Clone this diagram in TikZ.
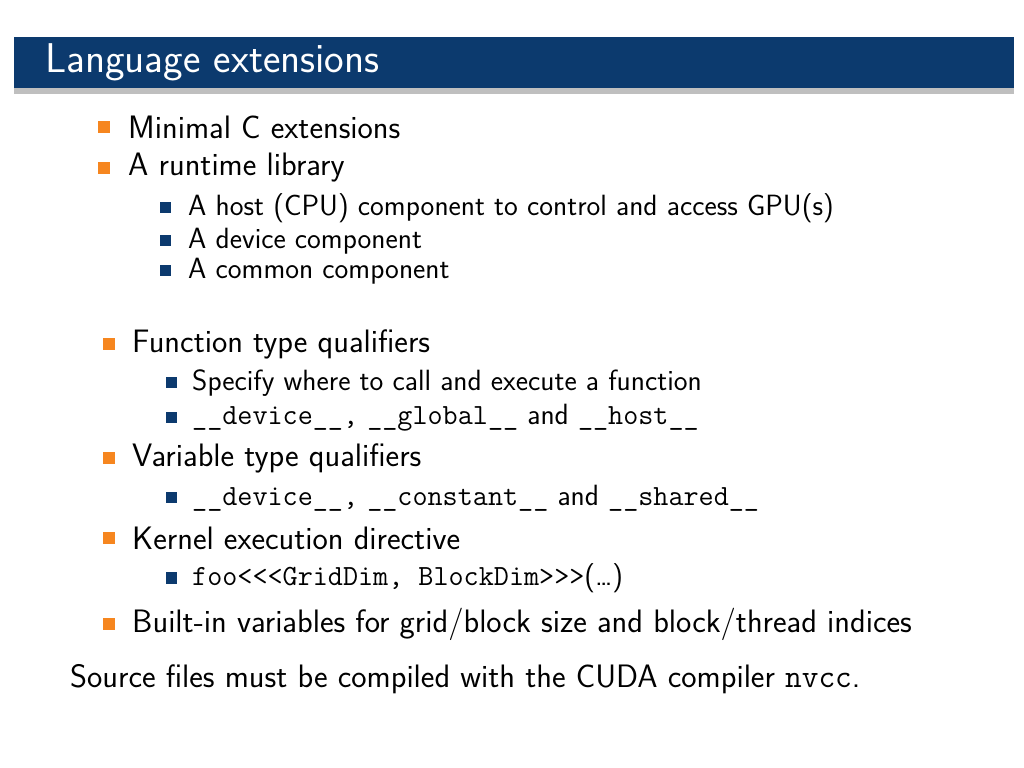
\documentclass[tikz,border=0pt]{standalone}
\usepackage{fontspec}
\usepackage{tikz}
\definecolor{barblue}{RGB}{12,58,110}
\definecolor{dotorange}{RGB}{246,134,31}
\tikzset{
  itemtext/.style={anchor=west,inner sep=0pt,font=\sffamily\fontsize{27.7}{32}\selectfont},
  subtext/.style={anchor=west,inner sep=0pt,font=\sffamily\fontsize{25}{30}\selectfont},
}
\begin{document}
\begin{tikzpicture}[x=0.03cm,y=-0.03cm]
  \useasboundingbox (0,0) rectangle (1024,768);
  % title bar
  \fill[black!25] (14,88) rectangle (1014,94);
  \fill[barblue] (14,37) rectangle (1014,88);
  \node[anchor=west,inner sep=0pt,text=white,font=\sffamily\fontsize{35.5}{40}\selectfont] (title) at (45,62) {Language extensions};

  % first group
  \fill[dotorange] (98,121) rectangle (110,133);
  \node[itemtext] (ext) at (128,127) {Minimal C extensions};
  \fill[dotorange] (98,162) rectangle (110,174);
  \node[itemtext] (lib) at (128,168) {A runtime library};
  \foreach \y/\t [count=\i] in {208/{A host (CPU) component to control and access GPU(s)},
                                241/{A device component},
                                271/{A common component}}{
    \fill[barblue] (160,\y-5.5) rectangle (171,\y+5.5);
    \node[subtext] (lib\i) at (188,\y) {\t};
  }

  % second group
  \fill[dotorange] (103,338) rectangle (115,350);
  \node[itemtext] (func) at (132,344) {Function type qualifiers};
  \fill[barblue] (166,377.5) rectangle (177,388.5);
  \node[subtext] (func1) at (192,383) {Specify where to call and execute a function};
  \fill[barblue] (166,412.5) rectangle (177,423.5);
  \node[subtext] (func2) at (192,418) {\texttt{\_\_device\_\_,} \texttt{\_\_global\_\_} and \texttt{\_\_host\_\_}};

  \fill[dotorange] (103,452) rectangle (115,464);
  \node[itemtext] (var) at (132,458) {Variable type qualifiers};
  \fill[barblue] (166,492.5) rectangle (177,503.5);
  \node[subtext] (var1) at (192,498) {\texttt{\_\_device\_\_,} \texttt{\_\_constant\_\_} and \texttt{\_\_shared\_\_}};

  \fill[dotorange] (103,532) rectangle (115,544);
  \node[itemtext] (kern) at (132,538) {Kernel execution directive};
  \fill[barblue] (166,572.5) rectangle (177,583.5);
  \node[subtext] (kern1) at (192,578) {\texttt{foo<{}<{}<GridDim, BlockDim>{}>{}>}(\ldots)};

  \fill[dotorange] (103,618) rectangle (115,630);
  \node[itemtext] (built) at (132,624) {Built-in variables for grid/block size and block/thread indices};

  \node[itemtext] (src) at (70,679) {Source files must be compiled with the CUDA compiler \texttt{nvcc}.};
\end{tikzpicture}
\end{document}
